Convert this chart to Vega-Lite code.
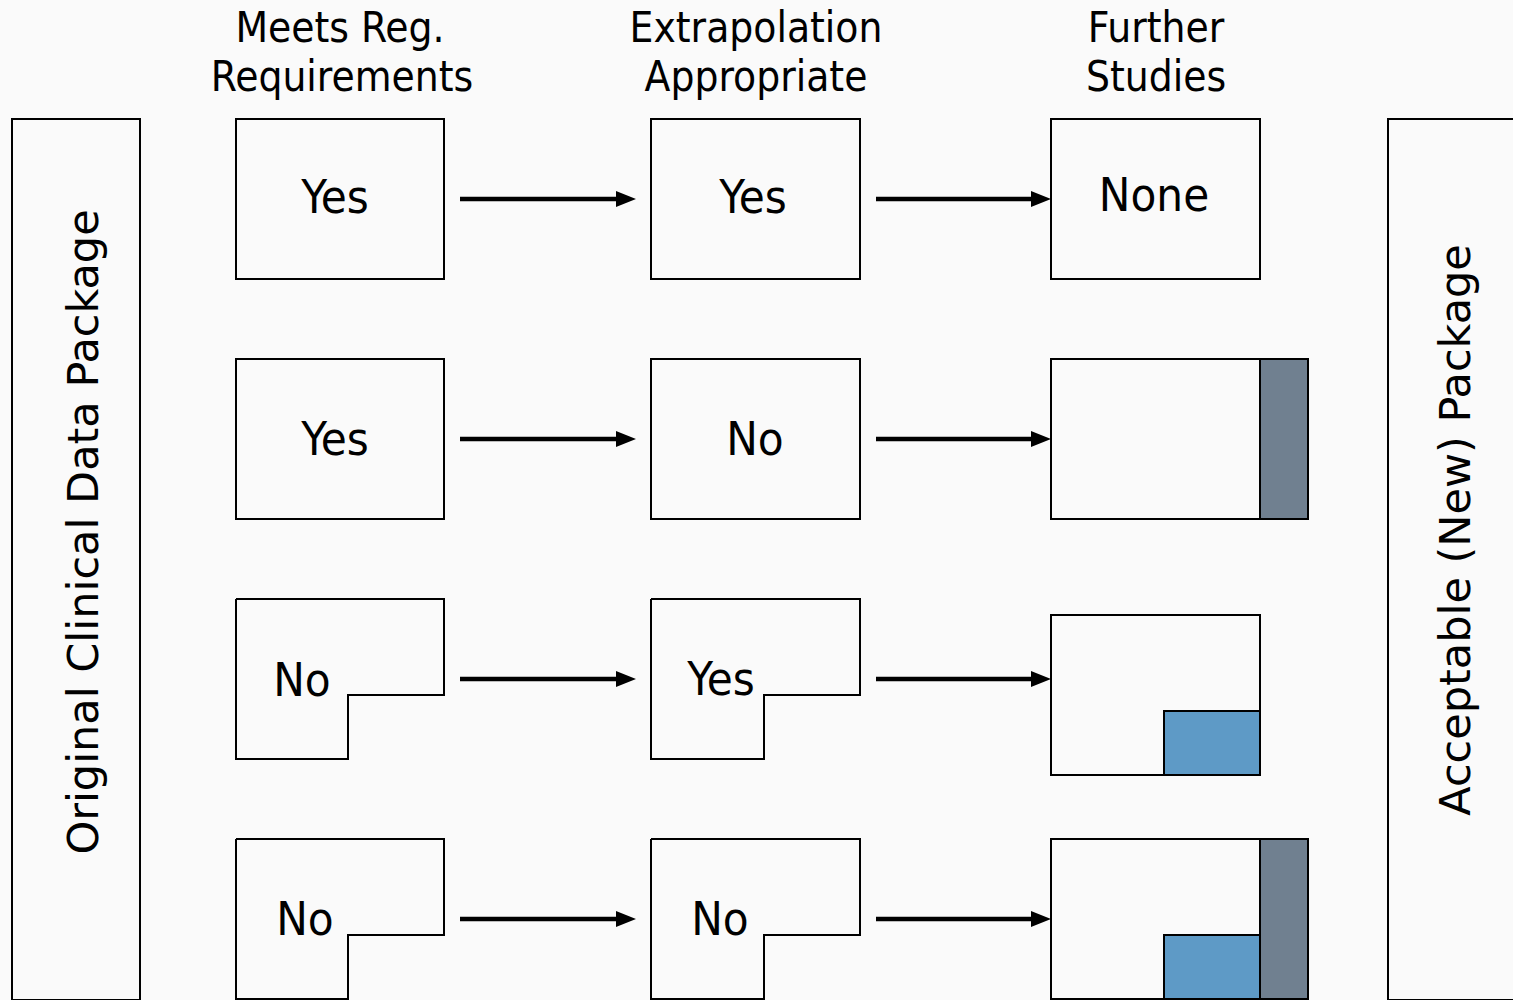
{
  "$schema": "https://vega.github.io/schema/vega-lite/v6.json",
  "width": 1513,
  "height": 1000,
  "padding": 0,
  "autosize": {"type": "none"},
  "background": "#fafafa",
  "config": {"view": {"stroke": null}, "font": "DejaVu Sans Condensed, Liberation Sans, sans-serif"},
  "datasets": {
    "rects": [
      {"x": 12, "x2": 140, "y": 119, "y2": 1000, "kind": "box"},
      {"x": 1388, "x2": 1520, "y": 119, "y2": 1000, "kind": "box"},
      {"x": 236, "x2": 444, "y": 119, "y2": 279, "kind": "box"},
      {"x": 236, "x2": 444, "y": 359, "y2": 519, "kind": "box"},
      {"x": 651, "x2": 860, "y": 119, "y2": 279, "kind": "box"},
      {"x": 651, "x2": 860, "y": 359, "y2": 519, "kind": "box"},
      {"x": 1051, "x2": 1260, "y": 119, "y2": 279, "kind": "box"},
      {"x": 1051, "x2": 1260, "y": 359, "y2": 519, "kind": "box"},
      {"x": 1260, "x2": 1308, "y": 359, "y2": 519, "kind": "gray"},
      {"x": 1051, "x2": 1260, "y": 615, "y2": 775, "kind": "box"},
      {"x": 1164, "x2": 1260, "y": 711, "y2": 775, "kind": "blue"},
      {"x": 1051, "x2": 1260, "y": 839, "y2": 999, "kind": "box"},
      {"x": 1164, "x2": 1260, "y": 935, "y2": 999, "kind": "blue"},
      {"x": 1260, "x2": 1308, "y": 839, "y2": 999, "kind": "gray"}
    ],
    "shapes": [
      {"id": "a", "o": 1, "x": 236, "y": 599},
      {"id": "a", "o": 2, "x": 444, "y": 599},
      {"id": "a", "o": 3, "x": 444, "y": 695},
      {"id": "a", "o": 4, "x": 348, "y": 695},
      {"id": "a", "o": 5, "x": 348, "y": 759},
      {"id": "a", "o": 6, "x": 236, "y": 759},
      {"id": "a", "o": 7, "x": 236, "y": 599},
      {"id": "b", "o": 1, "x": 236, "y": 839},
      {"id": "b", "o": 2, "x": 444, "y": 839},
      {"id": "b", "o": 3, "x": 444, "y": 935},
      {"id": "b", "o": 4, "x": 348, "y": 935},
      {"id": "b", "o": 5, "x": 348, "y": 999},
      {"id": "b", "o": 6, "x": 236, "y": 999},
      {"id": "b", "o": 7, "x": 236, "y": 839},
      {"id": "c", "o": 1, "x": 651, "y": 599},
      {"id": "c", "o": 2, "x": 860, "y": 599},
      {"id": "c", "o": 3, "x": 860, "y": 695},
      {"id": "c", "o": 4, "x": 764, "y": 695},
      {"id": "c", "o": 5, "x": 764, "y": 759},
      {"id": "c", "o": 6, "x": 651, "y": 759},
      {"id": "c", "o": 7, "x": 651, "y": 599},
      {"id": "d", "o": 1, "x": 651, "y": 839},
      {"id": "d", "o": 2, "x": 860, "y": 839},
      {"id": "d", "o": 3, "x": 860, "y": 935},
      {"id": "d", "o": 4, "x": 764, "y": 935},
      {"id": "d", "o": 5, "x": 764, "y": 999},
      {"id": "d", "o": 6, "x": 651, "y": 999},
      {"id": "d", "o": 7, "x": 651, "y": 839}
    ],
    "arrows": [
      {"x": 460, "x2": 626, "y": 199},
      {"x": 460, "x2": 626, "y": 439},
      {"x": 460, "x2": 626, "y": 679},
      {"x": 460, "x2": 626, "y": 919},
      {"x": 876, "x2": 1041, "y": 199},
      {"x": 876, "x2": 1041, "y": 439},
      {"x": 876, "x2": 1041, "y": 679},
      {"x": 876, "x2": 1041, "y": 919}
    ],
    "boxText": [
      {"label": "Yes", "x": 335, "y": 199},
      {"label": "Yes", "x": 335, "y": 441},
      {"label": "No", "x": 302, "y": 682},
      {"label": "No", "x": 305, "y": 921},
      {"label": "Yes", "x": 753, "y": 199},
      {"label": "No", "x": 755, "y": 441},
      {"label": "Yes", "x": 721, "y": 681},
      {"label": "No", "x": 720, "y": 921},
      {"label": "None", "x": 1154, "y": 197}
    ],
    "headers": [
      {"label": "Meets Reg.", "x": 340, "y": 29},
      {"label": "Requirements", "x": 342, "y": 78},
      {"label": "Extrapolation", "x": 756, "y": 29},
      {"label": "Appropriate", "x": 756, "y": 78},
      {"label": "Further", "x": 1156, "y": 29},
      {"label": "Studies", "x": 1156, "y": 78}
    ],
    "vertical": [
      {"label": "Original Clinical Data Package", "x": 85, "y": 532},
      {"label": "Acceptable (New) Package", "x": 1457, "y": 530}
    ]
  },
  "encoding": {
    "x": {"type": "quantitative", "scale": {"domain": [0, 1513]}, "axis": null},
    "y": {"type": "quantitative", "scale": {"domain": [0, 1000], "reverse": true}, "axis": null}
  },
  "layer": [
    {
      "data": {"name": "rects"},
      "mark": {"type": "rect", "stroke": "#000000", "strokeWidth": 2, "clip": true},
      "encoding": {
        "x": {"field": "x", "type": "quantitative"},
        "x2": {"field": "x2"},
        "y": {"field": "y", "type": "quantitative"},
        "y2": {"field": "y2"},
        "fill": {"field": "kind", "type": "nominal", "scale": {"domain": ["box", "blue", "gray"], "range": ["#fafafa", "#5e9ac6", "#708090"]}, "legend": null}
      }
    },
    {
      "data": {"name": "shapes"},
      "mark": {"type": "line", "stroke": "#000000", "strokeWidth": 2, "strokeJoin": "miter"},
      "encoding": {
        "x": {"field": "x", "type": "quantitative"},
        "y": {"field": "y", "type": "quantitative"},
        "detail": {"field": "id"},
        "order": {"field": "o", "type": "quantitative"}
      }
    },
    {
      "data": {"name": "arrows"},
      "mark": {"type": "rule", "stroke": "#000000", "strokeWidth": 4.5},
      "encoding": {
        "x": {"field": "x", "type": "quantitative"},
        "x2": {"field": "x2"},
        "y": {"field": "y", "type": "quantitative"}
      }
    },
    {
      "data": {"name": "arrows"},
      "mark": {"type": "point", "shape": "M-1,-0.8L1,0L-1,0.8Z", "size": 400, "filled": true, "fill": "#000000", "opacity": 1, "strokeWidth": 0},
      "encoding": {
        "x": {"field": "x2", "type": "quantitative"},
        "y": {"field": "y", "type": "quantitative"}
      }
    },
    {
      "data": {"name": "boxText"},
      "mark": {"type": "text", "fontSize": 47, "baseline": "middle", "align": "center", "fill": "#000000"},
      "encoding": {
        "x": {"field": "x", "type": "quantitative"},
        "y": {"field": "y", "type": "quantitative"},
        "text": {"field": "label"}
      }
    },
    {
      "data": {"name": "headers"},
      "mark": {"type": "text", "fontSize": 42, "baseline": "middle", "align": "center", "fill": "#000000"},
      "encoding": {
        "x": {"field": "x", "type": "quantitative"},
        "y": {"field": "y", "type": "quantitative"},
        "text": {"field": "label"}
      }
    },
    {
      "data": {"name": "vertical"},
      "mark": {"type": "text", "fontSize": 43, "baseline": "middle", "align": "center", "angle": 270, "fill": "#000000", "font": "DejaVu Sans"},
      "encoding": {
        "x": {"field": "x", "type": "quantitative"},
        "y": {"field": "y", "type": "quantitative"},
        "text": {"field": "label"}
      }
    }
  ]
}
